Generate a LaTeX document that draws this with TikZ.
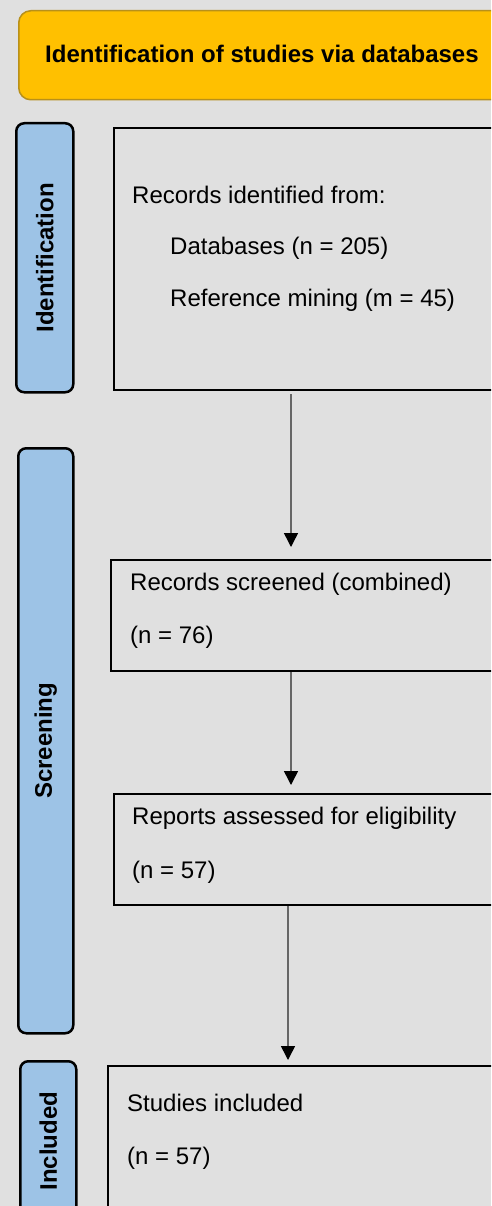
\documentclass[tikz,border=0pt]{standalone}
\usepackage{fontspec}
\setmainfont{Liberation Sans}
\usetikzlibrary{arrows.meta,calc}
\definecolor{bggray}{HTML}{E0E0E0}
\definecolor{hdrgold}{HTML}{FFC000}
\definecolor{hdredge}{HTML}{B8901A}
\definecolor{sideblue}{HTML}{9DC3E6}
\definecolor{arrgray}{HTML}{666666}

\begin{document}
\begin{tikzpicture}[x=1pt,y=-1pt,font=\fontsize{24}{28}\selectfont,
  hdrbox/.style={draw=hdredge,line width=1.5pt,fill=hdrgold,rounded corners=12pt,anchor=north west,inner sep=0pt},
  sidebox/.style={draw=black,line width=2.5pt,fill=sideblue,rounded corners=8pt,anchor=north west,inner sep=0pt},
  stagebox/.style={draw=black,line width=2pt,anchor=north west,minimum width=450pt,inner sep=0pt},
  lbl/.style={anchor=west,inner sep=0pt},
  sidelbl/.style={rotate=90,font=\fontsize{24}{28}\selectfont\bfseries,inner sep=0pt},
  arr/.style={draw=arrgray,line width=1.5pt,-{Triangle[width=14pt,length=14pt,black]}}]
  \clip (0,0) rectangle (491,1206);
  \fill[bggray] (0,0) rectangle (491,1206);
  % ---------------- header ----------------
  \node[hdrbox,minimum width=500pt,minimum height=89pt] (hdr) at (18,10) {};
  \node[lbl,font=\fontsize{24}{28}\selectfont\bfseries] (hdrtxt) at (45,54) {Identification of studies via databases};
  % ---------------- phase bars ----------------
  \node[sidebox,minimum width=57pt,minimum height=269pt] (sid) at (15,122) {};
  \node[sidebox,minimum width=55pt,minimum height=585pt] (sscr) at (17,447) {};
  \node[sidebox,minimum width=56pt,minimum height=180pt] (sinc) at (19,1060) {};
  \node[sidelbl] at (sid.center) {Identification};
  \node[sidelbl] at (sscr.center) {Screening};
  \node[sidelbl] at ([yshift=10pt]sinc.center) {Included};
  % ---------------- stage boxes ----------------
  \node[stagebox,minimum height=262pt] (ident) at (113,127) {};
  \node[lbl] at (132,195) {Records identified from:};
  \node[lbl] at (170,248) {Databases (n = 205)};
  \node[lbl] at (170,300) {Reference mining (m = 45)};
  \node[stagebox,minimum height=111pt] (screen) at (110,559) {};
  \node[lbl] at (130,584) {Records screened (combined)};
  \node[lbl] at (130,637) {(n = 76)};
  \node[stagebox,minimum height=111pt] (elig) at (113,793) {};
  \node[lbl] at (132,818) {Reports assessed for eligibility};
  \node[lbl] at (132,872) {(n = 57)};
  \node[stagebox,minimum height=200pt] (incl) at (107,1065) {};
  \node[lbl] at (127,1103) {Studies included};
  \node[lbl] at (127,1158) {(n = 57)};
  % ---------------- flow ----------------
  \draw[arr,shorten <=3pt,shorten >=12pt] ([xshift=178pt]ident.south west) -- ([xshift=181pt]screen.north west);
  \draw[arr,shorten >=8pt] ([xshift=181pt]screen.south west) -- ([xshift=178pt]elig.north west);
  \draw[arr,shorten >=5pt] ([xshift=175pt]elig.south west) -- ([xshift=181pt]incl.north west);
\end{tikzpicture}
\end{document}
